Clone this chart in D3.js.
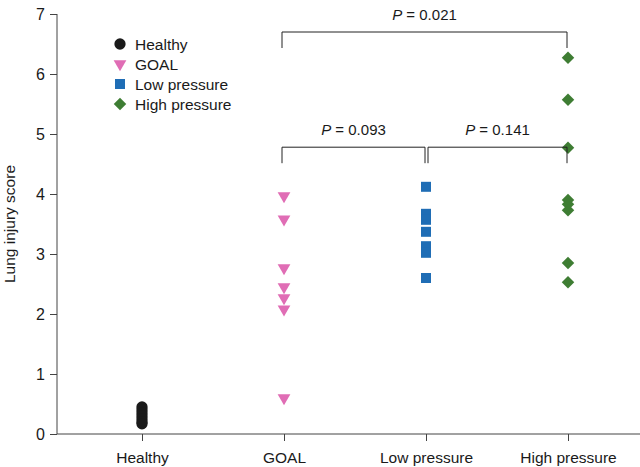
<!DOCTYPE html>
<html><head><meta charset="utf-8">
<script src="https://cdn.jsdelivr.net/npm/d3@7"></script>
<style>
body{margin:0;background:#fff;}
text{font-family:"Liberation Sans",Arial,Helvetica,sans-serif;}
</style></head>
<body>
<svg id="chart" width="640" height="467"></svg>
<script>
const categories = ["Healthy", "GOAL", "Low pressure", "High pressure"];
const healthyValues = [0.45, 0.40, 0.35, 0.30, 0.25, 0.20, 0.17];
const goalValues = [3.97, 3.58, 2.77, 2.45, 2.27, 2.08, 0.60];
const lowValues = [4.12, 3.67, 3.57, 3.37, 3.13, 3.02, 2.60];
const highValues = [6.27, 5.57, 4.77, 3.90, 3.83, 3.73, 2.85, 2.53];
const yTicks = [0, 1, 2, 3, 4, 5, 6, 7];
const seriesColors = ["#1a1a1a", "#e06db5", "#1f6db5", "#3e7d33"];
const seriesSymbols = ["circle", "triangle", "square", "diamond"];
const comparisons = [
  {from: "GOAL", to: "High pressure", label: "0.021", level: 6.7},
  {from: "GOAL", to: "Low pressure", label: "0.093", level: 4.78},
  {from: "Low pressure", to: "High pressure", label: "0.141", level: 4.78}
];
const seriesValues = [healthyValues, goalValues, lowValues, highValues];

const svg = d3.select("#chart");
const y = d3.scaleLinear().domain([0, 7]).range([434, 14]);
const x = d3.scalePoint().domain(categories).range([142, 568]);
const axisColor = "#444";
const textColor = "#1a1a1a";

// Y axis
const yAxis = svg.append("g").attr("transform", "translate(57,0)")
  .call(d3.axisLeft(y).tickValues(yTicks).tickSize(7).tickPadding(5).tickFormat(d3.format("d")));
yAxis.select(".domain").attr("stroke", axisColor).attr("d", `M0,${y(7)}V${y(0)}`);
yAxis.selectAll(".tick line").attr("stroke", axisColor);
yAxis.selectAll(".tick text").attr("font-size", 16).attr("fill", textColor)
  .attr("font-family", "Liberation Sans, Arial, sans-serif");

// X axis
const xAxis = svg.append("g").attr("transform", `translate(0,${y(0)})`)
  .call(d3.axisBottom(x).tickSize(7).tickPadding(11));
xAxis.select(".domain").attr("stroke", axisColor).attr("d", `M57,0H640`);
xAxis.selectAll(".tick line").attr("stroke", axisColor);
xAxis.selectAll(".tick text").attr("font-size", 15.5).attr("fill", textColor)
  .attr("font-family", "Liberation Sans, Arial, sans-serif");

// Y title
svg.append("text").attr("transform", `translate(15,${(y(0)+y(7))/2}) rotate(-90)`)
  .attr("text-anchor", "middle").attr("font-size", 15.5).attr("fill", textColor)
  .text("Lung injury score");

// Symbol generator
const symType = {circle: d3.symbolCircle, triangle: d3.symbolTriangle, square: d3.symbolSquare, diamond: d3.symbolSquare};
const symSize = {circle: 100, triangle: 70, square: 100, diamond: 78};
function symbolPath(g, kind, cx, cy, color) {
  let t;
  if (kind === "triangle") t = `translate(${cx},${cy}) rotate(180)`;
  else if (kind === "diamond") t = `translate(${cx},${cy}) rotate(45)`;
  else t = `translate(${cx},${cy})`;
  g.append("path").attr("d", d3.symbol().type(symType[kind]).size(symSize[kind])())
    .attr("transform", t).attr("fill", color);
}

// Points
categories.forEach((c, i) => {
  const g = svg.append("g");
  seriesValues[i].forEach(v => symbolPath(g, seriesSymbols[i], x(c), y(v), seriesColors[i]));
});

// Legend
const legend = svg.append("g");
categories.forEach((c, i) => {
  const ly = 44 + i * 20;
  symbolPath(legend, seriesSymbols[i], 120, ly, seriesColors[i]);
  legend.append("text").attr("x", 135).attr("y", ly + 5.5).attr("font-size", 15.5)
    .attr("fill", textColor).text(c);
});

// Brackets
comparisons.forEach(cmp => {
  const x1 = x(cmp.from) + (cmp.from === "GOAL" ? -2 : 2);
  const x2 = x(cmp.to) - 1;
  const by = y(cmp.level);
  svg.append("path").attr("d", `M${x1},${by + 16}V${by}H${x2}V${by + 16}`)
    .attr("fill", "none").attr("stroke", "#222").attr("stroke-width", 1);
  const t = svg.append("text").attr("x", (x1 + x2) / 2).attr("y", by - 12)
    .attr("text-anchor", "middle").attr("font-size", 15).attr("fill", textColor);
  t.append("tspan").attr("font-style", "italic").text("P");
  t.append("tspan").text(" = " + cmp.label);
});
</script>
</body></html>
